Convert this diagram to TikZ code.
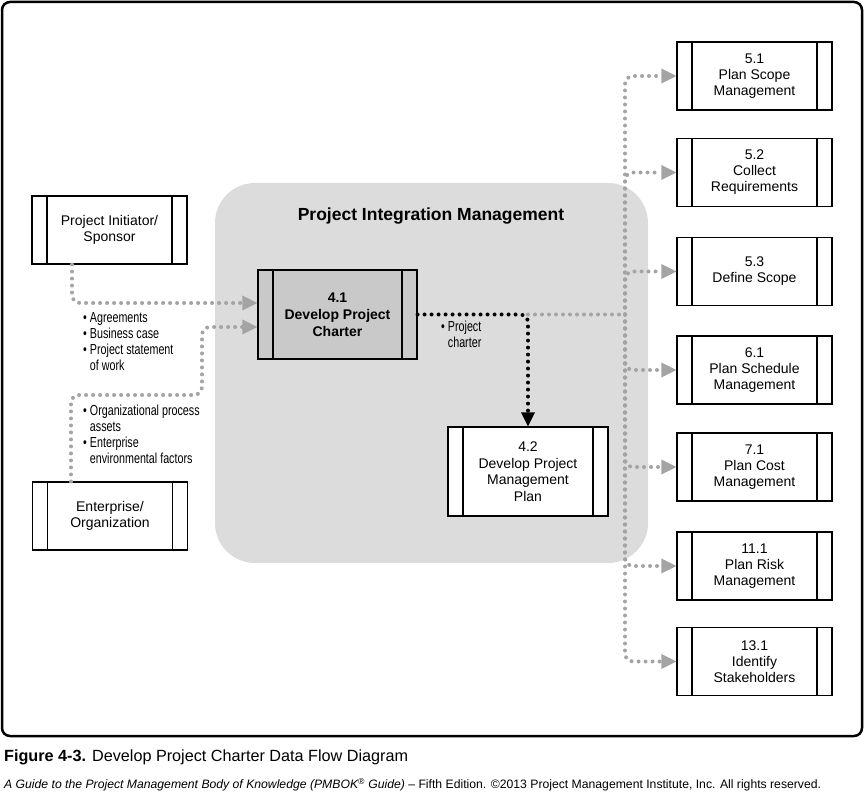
\documentclass[tikz,border=0pt]{standalone}
\usepackage{fontspec}
\setmainfont{Liberation Sans}
\newfontfamily\narrowfont[FakeStretch=0.74]{Liberation Sans}
\usetikzlibrary{arrows.meta}
\definecolor{pimgray}{HTML}{DCDCDC}
\definecolor{chartergray}{HTML}{C9C9C9}
\definecolor{flowgray}{HTML}{A4A4A4}
\tikzset{
  procbox/.style={draw, line width=1.1pt, fill=white, minimum width=155pt, minimum height=68pt,
    inner sep=0pt, align=center, font=\fontsize{14}{16}\selectfont,
    path picture={\draw[line width=1.1pt]
      ([xshift=15pt]path picture bounding box.north west) -- ([xshift=15pt]path picture bounding box.south west)
      ([xshift=-15pt]path picture bounding box.north east) -- ([xshift=-15pt]path picture bounding box.south east);}},
  grayflow/.style={draw=flowgray, line width=4pt, line cap=round, dash pattern=on 0pt off 7pt, rounded corners=8pt},
  grayarrow/.style={grayflow, -{Triangle[length=15pt, width=15pt, line width=0pt]}},
  blackflow/.style={draw=black, line width=4pt, line cap=round, dash pattern=on 0pt off 7pt, rounded corners=8pt,
    -{Triangle[length=14pt, width=14pt, line width=0pt]}},
  bullets/.style={anchor=north west, inner sep=0pt, align=left, font=\narrowfont\fontsize{14.5}{16}\selectfont}
}

\begin{document}
\begin{tikzpicture}[x=1pt,y=-1pt]
\useasboundingbox (0,0) rectangle (865,794);
\draw[line width=2.5pt, rounded corners=8pt] (2,2) rectangle (862,736); % outer frame
\fill[pimgray, rounded corners=40pt] (215,183) rectangle (648,563);
\node[font=\bfseries\fontsize{17.5}{20}\selectfont] (pimtitle) at (431,216) {Project Integration Management};

% process boxes
\node[procbox] (init) at (109.5,230) {Project Initiator/\\Sponsor};
\node[procbox] (ent) at (110,516) {Enterprise/\\Organization};
\node[procbox, fill=chartergray, minimum width=159pt, minimum height=89pt,
  font=\bfseries\fontsize{14}{17}\selectfont] (c41) at (337.5,314.5) {4.1\\Develop Project\\Charter};
\node[procbox, minimum width=160pt, minimum height=89pt,
  font=\fontsize{14}{16.5}\selectfont] (c42) at (528,471.5) {4.2\\Develop Project\\Management\\Plan};
\foreach \name/\yy/\txt in {p51/76/{5.1\\Plan Scope\\Management}, p52/172.5/{5.2\\Collect\\Requirements},
  p53/271.5/{5.3\\Define Scope}, p61/370/{6.1\\Plan Schedule\\Management}, p71/467/{7.1\\Plan Cost\\Management},
  p111/566/{11.1\\Plan Risk\\Management}, p131/661.5/{13.1\\Identify\\Stakeholders}}
  \node[procbox] (\name) at (754.5,\yy) {\txt};

% inputs
\coordinate (inbend) at (202,395);
\draw[grayarrow] ([xshift=-37.5pt]init.south) |- ([yshift=11.5pt]c41.west);
\draw[grayarrow] ([xshift=-39pt]ent.north) |- (inbend) |- ([yshift=-12.5pt]c41.west);
\node[bullets] (inlist) at (83,312) {• Agreements\\• Business case\\• Project statement\\\hphantom{• }of work};
\node[bullets] (entlist) at (83,405) {• Organizational process\\\hphantom{• }assets\\• Enterprise\\\hphantom{• }environmental factors};

% outputs
\coordinate (turn) at (c41.east -| c42.north);
\coordinate (fork) at (625,314.5);
\draw[grayflow] (turn) -- (fork);
\draw[blackflow] (c41.east) -| (c42.north);
\foreach \name in {p51,p52,p53,p61,p71,p111,p131}
  \draw[grayarrow] (fork) |- (\name.west);
\node[bullets] (charterlist) at (441,321) {• Project\\\hphantom{• }charter};

% caption
\node[anchor=west, inner sep=0pt, font=\fontsize{16.2}{19}\selectfont] (figcap) at (4,757)
  {\textbf{Figure 4-3.} Develop Project Charter Data Flow Diagram};
\node[anchor=west, inner sep=0pt, font=\fontsize{12.2}{14}\selectfont] (figsrc) at (4,785)
  {\textit{A Guide to the Project Management Body of Knowledge (PMBOK\textsuperscript{®} Guide)} – Fifth Edition. ©2013 Project Management Institute, Inc. All rights reserved.};
\end{tikzpicture}
\end{document}
